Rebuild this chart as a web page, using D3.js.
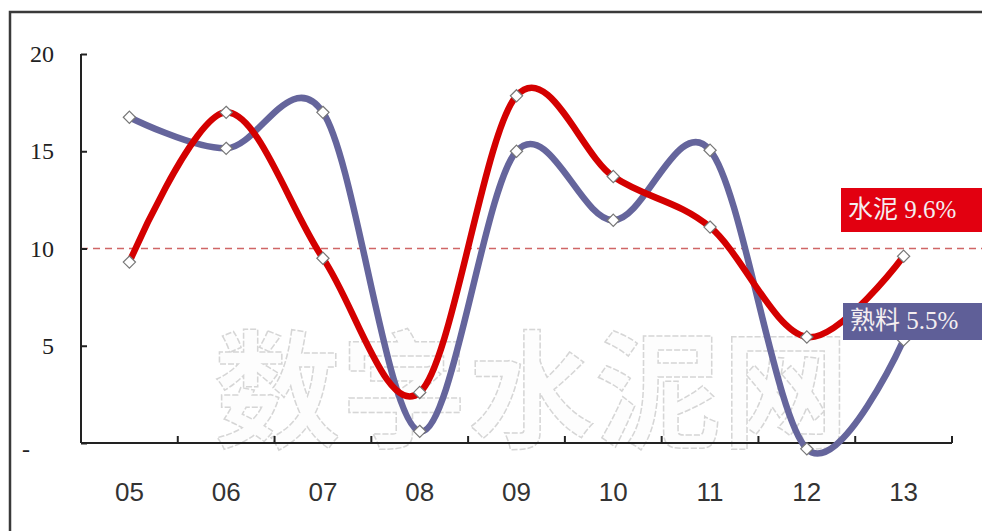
<!DOCTYPE html>
<html>
<head>
<meta charset="utf-8">
<script src="https://cdn.jsdelivr.net/npm/d3@7/dist/d3.min.js"></script>
<style>
  html, body { margin: 0; padding: 0; background: #fff; }
  svg { display: block; }
</style>
</head>
<body>
<svg id="chart" width="982" height="531"></svg>
<script>
// ---- data ----
const categories = ["05", "06", "07", "08", "09", "10", "11", "12", "13"];
const cement  = [9.3, 17.0, 9.5, 2.6, 17.85, 13.7, 11.1, 5.45, 9.6];   // 水泥
const clinker = [16.75, 15.15, 17.0, 0.6, 15.0, 11.45, 15.05, -0.3, 5.3]; // 熟料
const yTicks = [0, 5, 10, 15, 20];
const yTickLabels = ["-", "5", "10", "15", "20"];
const refValue = [10];
const seriesLabels = ["水泥 9.6%", "熟料 5.5%"];
const watermark = ["数字水泥网"];

// ---- layout ----
const svg = d3.select("#chart");
const x = d3.scaleBand().domain(categories).range([81, 952]).padding(0);
const y = d3.scaleLinear().domain([0, 20]).range([443, 54]);
const cx = d => x(d) + x.bandwidth() / 2;

// outer frame
svg.append("path")
  .attr("d", "M10,531 L10,12 L982,12")
  .attr("fill", "none").attr("stroke", "#3a3a3a").attr("stroke-width", 2.5);

// watermark
svg.selectAll("text.wm").data(watermark).join("text")
  .attr("class", "wm")
  .attr("x", 214).attr("y", 438)
  .attr("font-family", "Noto Sans CJK SC")
  .attr("font-weight", "bold")
  .attr("font-size", 127)
  .attr("fill", "#fdfdfd")
  .attr("stroke", "#d6d6d6")
  .attr("stroke-width", 1.5)
  .attr("stroke-dasharray", "6 2")
  .text(d => d);

// reference dashed line
svg.selectAll("line.ref").data(refValue).join("line")
  .attr("class", "ref")
  .attr("x1", 81).attr("x2", 982)
  .attr("y1", d => y(d)).attr("y2", d => y(d))
  .attr("stroke", "#d06666").attr("stroke-width", 1.6)
  .attr("stroke-dasharray", "7 5");

// y axis
const yAxis = svg.append("g").attr("transform", "translate(81,0)")
  .call(d3.axisLeft(y).tickValues(yTicks).tickSize(-6).tickFormat("").tickSizeOuter(0));
yAxis.select(".domain").attr("stroke", "#222").attr("stroke-width", 2)
  .attr("d", `M0,${y(20)}V${y(0)}`);
yAxis.selectAll(".tick line").attr("stroke", "#222").attr("stroke-width", 2);

svg.selectAll("text.ylab").data(yTicks).join("text")
  .attr("class", "ylab")
  .attr("x", (d, i) => i === 0 ? 22 : 54)
  .attr("y", d => d === 0 ? y(d) + 14 : y(d) + 8)
  .attr("text-anchor", (d, i) => i === 0 ? "start" : "end")
  .attr("font-family", "Liberation Serif")
  .attr("font-size", 24)
  .attr("fill", "#222")
  .text((d, i) => yTickLabels[i]);

// x axis
svg.append("line")
  .attr("x1", 81).attr("x2", x.range()[1])
  .attr("y1", y(0)).attr("y2", y(0))
  .attr("stroke", "#222").attr("stroke-width", 2);
const boundaries = categories.map(c => x(c)).concat([x(categories[categories.length - 1]) + x.bandwidth()]).slice(1);
svg.selectAll("line.xtick").data(boundaries).join("line")
  .attr("class", "xtick")
  .attr("x1", d => d).attr("x2", d => d)
  .attr("y1", y(0)).attr("y2", y(0) - 7)
  .attr("stroke", "#222").attr("stroke-width", 2);
svg.selectAll("text.xlab").data(categories).join("text")
  .attr("class", "xlab")
  .attr("x", d => cx(d)).attr("y", 501)
  .attr("text-anchor", "middle")
  .attr("font-family", "Liberation Sans")
  .attr("font-size", 26)
  .attr("fill", "#333")
  .text(d => d);

// lines
const line = d3.line()
  .x((d, i) => cx(categories[i]))
  .y(d => y(d))
  .curve(d3.curveCatmullRom.alpha(0));

const series = [
  { values: clinker, color: "#65659c" },
  { values: cement,  color: "#d40000" }
];
series.forEach(s => {
  svg.append("path").datum(s.values)
    .attr("d", line)
    .attr("fill", "none")
    .attr("stroke", s.color)
    .attr("stroke-width", 6.5)
    .attr("stroke-linejoin", "round");
});
series.forEach(s => {
  svg.append("g").selectAll("path").data(s.values).join("path")
    .attr("d", d3.symbol(d3.symbolDiamond2, 95))
    .attr("transform", (d, i) => `translate(${cx(categories[i])},${y(d)})`)
    .attr("fill", "#fff")
    .attr("stroke", "#777")
    .attr("stroke-width", 1.2);
});

// series labels
const boxes = [
  { text: seriesLabels[0], x: 841, y: 188, h: 44, fill: "#e20010", ty: 218 },
  { text: seriesLabels[1], x: 843, y: 303, h: 37, fill: "#5f5f98", ty: 329 }
];
boxes.forEach(b => {
  svg.append("rect").attr("x", b.x).attr("y", b.y).attr("width", 982 - b.x).attr("height", b.h)
    .attr("fill", b.fill);
  svg.append("text").attr("x", b.x + 7).attr("y", b.ty)
    .attr("font-family", "Liberation Serif, Noto Sans CJK SC")
    .attr("font-size", 25)
    .attr("fill", "#f4eef0")
    .text(b.text);
});
</script>
</body>
</html>
